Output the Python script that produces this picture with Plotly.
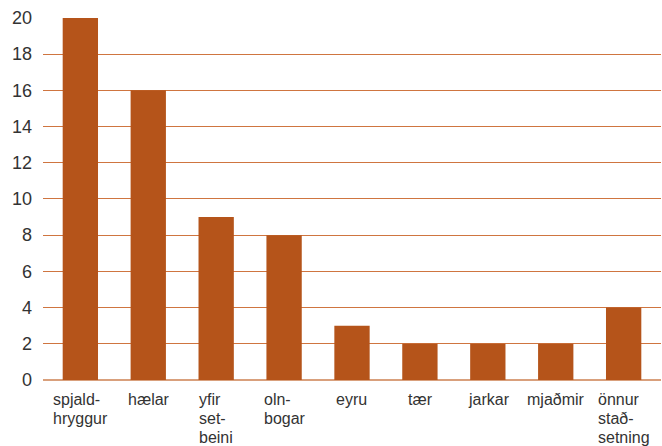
import plotly.graph_objects as go

categories = ["spjald-<br>hryggur", "hælar", "yfir<br>set-<br>beini", "oln-<br>bogar", "eyru", "tær", "jarkar", "mjaðmir", "önnur<br>stað-<br>setning"]
values = [20, 16, 9, 8, 3, 2, 2, 2, 4]
y_ticks = [0, 2, 4, 6, 8, 10, 12, 14, 16, 18, 20]

bar_color = "#b5541a"
grid_color = "#cf7540"
text_color = "#333333"
font_family = "Liberation Sans, Arial, sans-serif"

W, H = 662, 446
ml, mr, mt, mb = 43, 1, 17, 66
xr = [-0.55, 8.55]
bargap = 0.48
label_size = 16
line_px = 19.0

# approximate Arial advance widths (per 1000 em) to left-align wrapped lines in a centred block
ADV = {"a": 556, "b": 556, "d": 556, "e": 556, "f": 278, "g": 556, "h": 556, "i": 222, "j": 222,
       "k": 500, "l": 222, "m": 833, "n": 556, "o": 556, "p": 556, "r": 333, "s": 500, "t": 278,
       "u": 556, "y": 500, "-": 333, "æ": 889, "ð": 556, "ö": 556}


def text_w(s):
    return sum(ADV.get(ch, 556) for ch in s) * label_size / 1000.0


fig = go.Figure(go.Bar(
    x=list(range(len(categories))), y=values,
    marker=dict(color=bar_color, line=dict(width=0)),
))

for i, c in enumerate(categories):
    lines = c.split("<br>")
    block_w = max(text_w(ln) for ln in lines)
    for k, ln in enumerate(lines):
        fig.add_annotation(
            x=i, y=0, xref="x", yref="y", text=ln, showarrow=False,
            xanchor="left", yanchor="top", align="left",
            xshift=-block_w / 2 - 1, yshift=-10 - k * line_px, borderpad=0,
            font=dict(family=font_family, size=label_size, color=text_color),
        )

fig.update_layout(
    width=W, height=H,
    margin=dict(l=ml, r=mr, t=mt, b=mb),
    paper_bgcolor="white", plot_bgcolor="white",
    bargap=bargap, showlegend=False,
    xaxis=dict(range=xr, showticklabels=False, showgrid=False, zeroline=False, showline=False, ticks=""),
    yaxis=dict(range=[0, 20.05], tickvals=y_ticks, showgrid=True, gridcolor=grid_color, gridwidth=1,
               zeroline=True, zerolinecolor="#d9a07c", zerolinewidth=2, showline=False, ticks="",
               ticklabelstandoff=10,
               tickfont=dict(family=font_family, size=18, color=text_color)),
)

fig.write_html("out.html", config={"displayModeBar": False},
               post_script="document.body.style.margin='0';document.body.style.overflow='hidden';")
